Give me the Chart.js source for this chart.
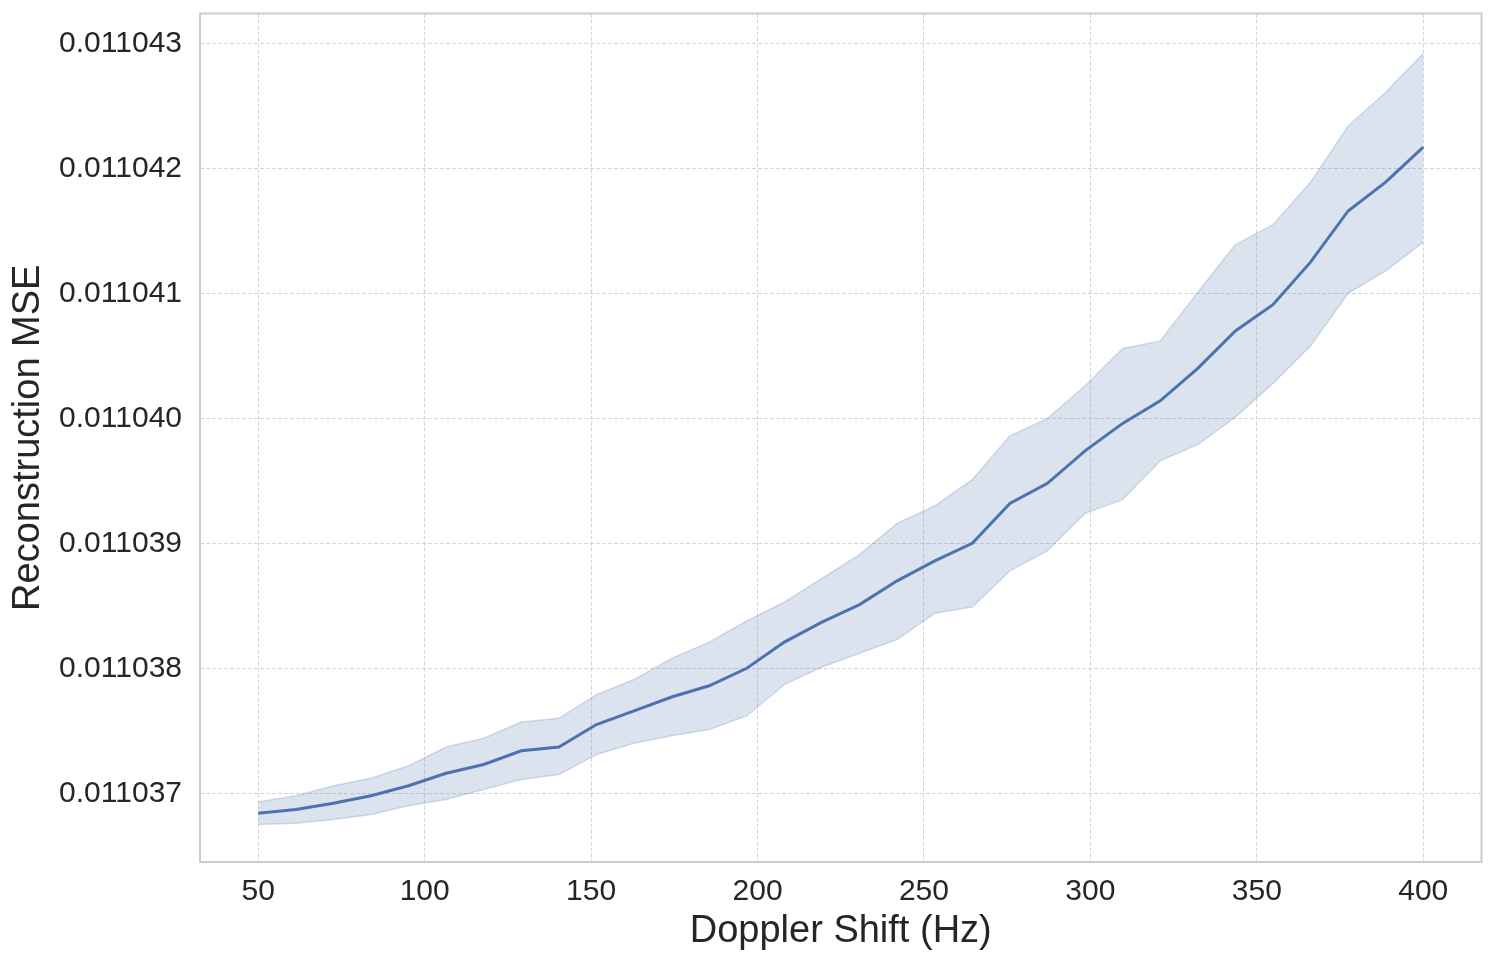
<!DOCTYPE html>
<html><head><meta charset="utf-8">
<script src="https://cdn.jsdelivr.net/npm/chart.js@4.4.1/dist/chart.umd.min.js"></script>
<style>html,body{margin:0;padding:0;background:#fff}#wrap{width:1496px;height:966px;position:relative}</style>
</head><body><div id="wrap"><canvas id="c"></canvas></div>
<script>
const dopplerShift = [50, 61.29, 72.58, 83.87, 95.16, 106.45, 117.74, 129.03, 140.32, 151.61, 162.90, 174.19, 185.48, 196.77, 208.06, 219.35, 230.65, 241.94, 253.23, 264.52, 275.81, 287.10, 298.39, 309.68, 320.97, 332.26, 343.55, 354.84, 366.13, 377.42, 388.71, 400];
const mseMean = [0.01103684, 0.01103687, 0.01103692, 0.01103698, 0.01103706, 0.01103716, 0.01103723, 0.01103734, 0.01103737, 0.01103755, 0.01103766, 0.01103777, 0.01103786, 0.01103800, 0.01103821, 0.01103837, 0.01103851, 0.01103870, 0.01103886, 0.01103900, 0.01103932, 0.01103948, 0.01103974, 0.01103996, 0.01104014, 0.01104040, 0.01104070, 0.01104091, 0.01104125, 0.01104166, 0.01104189, 0.01104217];
const mseUpper = [0.01103693, 0.01103698, 0.01103706, 0.01103712, 0.01103722, 0.01103737, 0.01103744, 0.01103757, 0.01103760, 0.01103779, 0.01103791, 0.01103808, 0.01103821, 0.01103838, 0.01103853, 0.01103872, 0.01103891, 0.01103916, 0.01103930, 0.01103951, 0.01103986, 0.01104000, 0.01104026, 0.01104056, 0.01104062, 0.01104101, 0.01104139, 0.01104155, 0.01104189, 0.01104234, 0.01104261, 0.01104292];
const mseLower = [0.01103675, 0.01103676, 0.01103679, 0.01103683, 0.01103690, 0.01103695, 0.01103703, 0.01103711, 0.01103715, 0.01103731, 0.01103740, 0.01103746, 0.01103751, 0.01103762, 0.01103787, 0.01103801, 0.01103812, 0.01103823, 0.01103844, 0.01103849, 0.01103878, 0.01103894, 0.01103924, 0.01103935, 0.01103966, 0.01103979, 0.01104001, 0.01104028, 0.01104058, 0.01104100, 0.01104118, 0.01104141];
const xTicks = [50, 100, 150, 200, 250, 300, 350, 400];
const yTicks = [0.011037, 0.011038, 0.011039, 0.011040, 0.011041, 0.011042, 0.011043];
const xLabel = 'Doppler Shift (Hz)';
const yLabel = 'Reconstruction MSE';

const FONT = '"Liberation Sans", Arial, Helvetica, sans-serif';
const TEXT = '#262626';
const pts = arr => arr.map((v, i) => ({x: dopplerShift[i], y: v}));

const frame = {
  id: 'frame',
  afterDraw(chart) {
    const {ctx, chartArea: a} = chart;
    ctx.save();
    ctx.strokeStyle = '#cccccc';
    ctx.lineWidth = 2;
    ctx.strokeRect(a.left, a.top, a.right - a.left, a.bottom - a.top);
    ctx.restore();
  }
};

new Chart(document.getElementById('c'), {
  type: 'line',
  data: {
    datasets: [
      {data: pts(mseMean), borderColor: '#4c72b0', borderWidth: 3, pointRadius: 0, fill: false, tension: 0},
      {data: pts(mseUpper), borderColor: 'rgba(76,114,176,0.22)', borderWidth: 1.5, pointRadius: 0,
       backgroundColor: 'rgba(76,114,176,0.2)', fill: 2, tension: 0},
      {data: pts(mseLower), borderColor: 'rgba(76,114,176,0.22)', borderWidth: 1.5, pointRadius: 0, fill: false, tension: 0}
    ]
  },
  options: {
    responsive: true, maintainAspectRatio: false, animation: false,
    layout: {padding: {left: 0, top: 13.5, right: 14.5, bottom: 0}},
    plugins: {legend: {display: false}, tooltip: {enabled: false}},
    events: [],
    scales: {
      x: {
        type: 'linear', min: 32.5, max: 417.5,
        afterFit(s) { s.height = 104; s.paddingLeft = 0; s.paddingRight = 0; },
        afterBuildTicks(s) { s.ticks = xTicks.map(v => ({value: v})); },
        grid: {color: 'rgba(200,200,200,0.75)', lineWidth: 1, drawTicks: false},
        border: {display: false, dash: [4, 2]},
        ticks: {color: TEXT, font: {family: FONT, size: 30}, padding: 12, maxRotation: 0, callback: v => String(v)},
        title: {display: true, text: xLabel, color: TEXT, font: {family: FONT, size: 38}, padding: {top: 0, bottom: 12}}
      },
      y: {
        type: 'linear', min: 0.01103645, max: 0.01104324,
        afterFit(s) { s.width = 200; s.paddingTop = 0; s.paddingBottom = 0; },
        afterBuildTicks(s) { s.ticks = yTicks.map(v => ({value: v})); },
        grid: {color: 'rgba(200,200,200,0.75)', lineWidth: 1, drawTicks: false},
        border: {display: false, dash: [4, 2]},
        ticks: {color: TEXT, font: {family: FONT, size: 30}, padding: 18, callback: v => Number(v).toFixed(6)},
        title: {display: true, text: yLabel, color: TEXT, font: {family: FONT, size: 38}, padding: {top: 6, bottom: 0}}
      }
    }
  },
  plugins: [frame]
});
</script></body></html>
